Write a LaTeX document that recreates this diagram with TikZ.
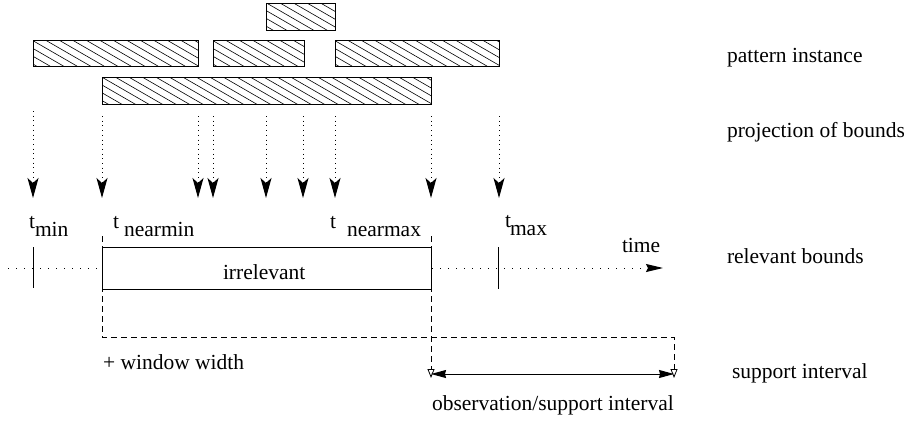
\documentclass[tikz,border=0pt]{standalone}
\usepackage{fontspec}
\setmainfont{Liberation Serif}
\usetikzlibrary{arrows.meta}
\begin{document}
\begin{tikzpicture}[x=1pt,y=-1pt,
  lbl/.style={inner sep=0pt, outer sep=0pt, anchor=base west,
    font=\fontsize{21.5}{25}\selectfont},
  hatchbox/.style={draw, line width=0.8pt, inner sep=0pt, outer sep=0pt,
    path picture={\foreach \k in {-4,...,40}
      \draw[line width=0.6pt]
        ([xshift=\k*13.5pt]path picture bounding box.north west) -- ++(60,34.64);}},
  plainbox/.style={draw, fill=white, line width=0.8pt, inner sep=0pt, outer sep=0pt},
  proj/.style={line width=1pt, dash pattern=on 1pt off 3.7pt,
    -{Stealth[length=20pt,width=11pt,inset=5pt]}},
  timeline/.style={line width=1pt, dash pattern=on 1pt off 7pt,
    -{Stealth[length=17pt,width=8pt,inset=2pt]}},
  tick/.style={line width=1pt},
  bound/.style={line width=0.8pt, dash pattern=on 6pt off 4pt,
    -{Triangle[open,length=9pt,width=7pt]}},
  span/.style={line width=1pt,
    {Stealth[length=15pt,width=8pt,inset=1pt]}-{Stealth[length=15pt,width=8pt,inset=1pt]}}
]
\useasboundingbox (0,0) rectangle (904,421);

% pattern instances (hatched)
\node[hatchbox, minimum width=69pt, minimum height=27pt] (hTop) at (301,16.5) {};
\node[hatchbox, minimum width=165pt, minimum height=26pt] (hA) at (115.5,53.7) {};
\node[hatchbox, minimum width=91pt, minimum height=26pt] (hB) at (258.5,53.7) {};
\node[hatchbox, minimum width=164pt, minimum height=26pt] (hC) at (417,53.7) {};
\node[hatchbox, minimum width=329pt, minimum height=27pt] (hD) at (266.5,90.7) {};

% projection of the bounds onto the time axis
\coordinate (ps1) at (33,111);  \coordinate (pe1) at (33,198);
\coordinate (ps2) at (102,116); \coordinate (pe2) at (102,198);
\coordinate (ps3) at (198,116); \coordinate (pe3) at (198,198);
\coordinate (ps4) at (213,116); \coordinate (pe4) at (213,198);
\coordinate (ps5) at (266,116); \coordinate (pe5) at (266,198);
\coordinate (ps6) at (303,116); \coordinate (pe6) at (303,198);
\coordinate (ps7) at (335,116); \coordinate (pe7) at (335,198);
\coordinate (ps8) at (431,116); \coordinate (pe8) at (431,198);
\coordinate (ps9) at (499,116); \coordinate (pe9) at (499,198);
\foreach \i in {1,...,9} \draw[proj] (ps\i) -- (pe\i);

% time axis
\coordinate (tA) at (8,268);
\coordinate (tB) at (663,268);
\draw[timeline] (tA) -- (tB);
\node[lbl] (time) at (622,252) {time};

% window extension (dashed) and the support interval
\coordinate (dL) at (102,236);
\coordinate (dLb) at (102,337);
\coordinate (dRb) at (674,337);
\coordinate (dR) at (674,378);
\coordinate (mT) at (431,236);
\coordinate (mB) at (431,378);
\draw[bound] (dL) -- (dLb) -- (dRb) -- (dR);
\draw[bound] (mT) -- (mB);

% irrelevant region between the near bounds
\node[plainbox, minimum width=329pt, minimum height=42pt] (irr) at (266.5,268) {};
\node[lbl] (irrtxt) at (223,279) {irrelevant};

% ticks for t_min and t_max
\coordinate (tminA) at (33,247); \coordinate (tminB) at (33,288);
\coordinate (tmaxA) at (498,247); \coordinate (tmaxB) at (498,289);
\draw[tick] (tminA) -- (tminB);
\draw[tick] (tmaxA) -- (tmaxB);

% bound labels
\node[lbl] (t1) at (29,228) {t};   \node[lbl] (s1) at (35,236) {min};
\node[lbl] (t2) at (113,228) {t};  \node[lbl] (s2) at (124,236) {nearmin};
\node[lbl] (t3) at (330,228) {t};  \node[lbl] (s3) at (347,236) {nearmax};
\node[lbl] (t4) at (505,227) {t};  \node[lbl] (s4) at (510,235) {max};

% observation / support interval
\coordinate (sL) at (431,374);
\coordinate (sR) at (674,374);
\draw[span] (sL) -- (sR);
\node[lbl] (ww) at (103,369) {+ window width};
\node[lbl] (obs) at (432,410) {observation/support interval};

% row captions
\node[lbl] (c1) at (727,62) {pattern instance};
\node[lbl] (c2) at (727,137) {projection of bounds};
\node[lbl] (c3) at (727,263) {relevant bounds};
\node[lbl] (c4) at (732,378) {support interval};
\end{tikzpicture}
\end{document}
